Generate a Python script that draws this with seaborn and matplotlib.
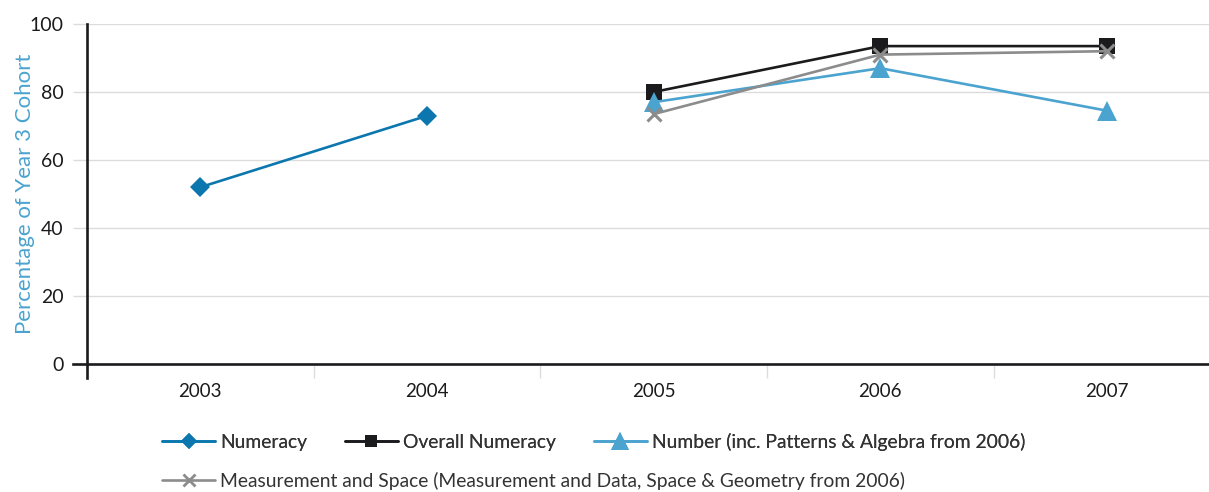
import matplotlib
matplotlib.use("Agg")
import matplotlib.pyplot as plt
from matplotlib.lines import Line2D
import seaborn as sns
import pandas as pd

# ---- data ----
years = ["2003", "2004", "2005", "2006", "2007"]
numeracy_years = ["2003", "2004"]
numeracy = [52, 73]
later_years = ["2005", "2006", "2007"]
overall_numeracy = [80, 93.5, 93.5]
number_strand = [77, 87, 74.5]
measurement_space = [73.5, 91, 92]

series_names = [
    "Numeracy",
    "Overall Numeracy",
    "Number (inc. Patterns & Algebra from 2006)",
    "Measurement and Space (Measurement and Data, Space & Geometry from 2006)",
]
y_ticks = [0, 20, 40, 60, 80, 100]

# ---- style ----
sns.set_theme(style="white")
plt.rcParams["font.family"] = ["Lato", "DejaVu Sans"]

colors = ["#0b77ae", "#1b1b1d", "#4ba3cf", "#8c8c8c"]
markers = ["D", "s", "^", "x"]
msizes = [10, 11, 15, 10]
grid_col = "#dcdcdc"

fig = plt.figure(figsize=(12.09, 4.92), dpi=100)
ax = fig.add_axes([87 / 1209, 1 - 364 / 492, 1122 / 1209, 340 / 492])

frames = [
    (numeracy_years, numeracy),
    (later_years, overall_numeracy),
    (later_years, number_strand),
    (later_years, measurement_space),
]
for i, (xs, vals) in enumerate(frames):
    df = pd.DataFrame({"year": xs, "value": vals})
    sns.pointplot(
        data=df, x="year", y="value", order=years, ax=ax,
        color=colors[i], marker=markers[i], markersize=msizes[i],
        linewidth=1.9, errorbar=None,
        markeredgewidth=2.2 if markers[i] == "x" else 0,
    )

# ---- axes ----
ax.set_xlim(-0.5, 4.45)
ax.set_ylim(0, 100)
ax.set_yticks(y_ticks)
ax.set_xticks(range(len(years)))
ax.set_xticklabels(years)
ax.set_xlabel("")
ax.set_ylabel("Percentage of Year 3 Cohort", color="#4ba3cf", fontsize=16,
              labelpad=-4)

ax.yaxis.grid(True, color=grid_col, linewidth=1)
ax.xaxis.grid(False)
ax.set_axisbelow(True)

for s in ["top", "right"]:
    ax.spines[s].set_visible(False)
for s in ["left", "bottom"]:
    ax.spines[s].set_color("#1b1b1d")
    ax.spines[s].set_linewidth(1.9)
ax.spines["left"].set_bounds(-4.2, 100)
ax.spines["bottom"].set_bounds(-0.5 - 14 / 226.7, 4.45)

ax.tick_params(axis="y", direction="out", length=10, width=1, color=grid_col,
               labelsize=14, labelcolor="#1b1b1d", pad=7, left=True)
ax.tick_params(axis="x", which="major", length=0, labelsize=13.5,
               labelcolor="#1b1b1d", pad=14, bottom=True)
ax.set_xticks([0.5, 1.5, 2.5, 3.5], minor=True)
ax.tick_params(axis="x", which="minor", direction="out", length=10, width=1,
               color=grid_col, bottom=True)

# ---- legend ----
handles = [
    Line2D([], [], color=colors[i], marker=markers[i], markersize=msizes[i] * 0.82,
           linewidth=1.9, markeredgewidth=2.0 if markers[i] == "x" else 0)
    for i in range(4)
]
leg_kw = dict(loc="center left", frameon=False,
              prop={"size": 13.9}, handlelength=2.75,
              handletextpad=0.27, columnspacing=1.95,
              borderpad=0, borderaxespad=0)
leg1 = fig.legend(handles[:3], series_names[:3], ncol=3,
                  bbox_to_anchor=(162 / 1209, 1 - 442 / 492), **leg_kw)
fig.add_artist(leg1)
fig.legend(handles[3:], series_names[3:], ncol=1,
           bbox_to_anchor=(162 / 1209, 1 - 481 / 492), **leg_kw)
for leg in fig.legends:
    for t in leg.get_texts():
        t.set_color("#333333")

fig.savefig("out.png", dpi=100)
